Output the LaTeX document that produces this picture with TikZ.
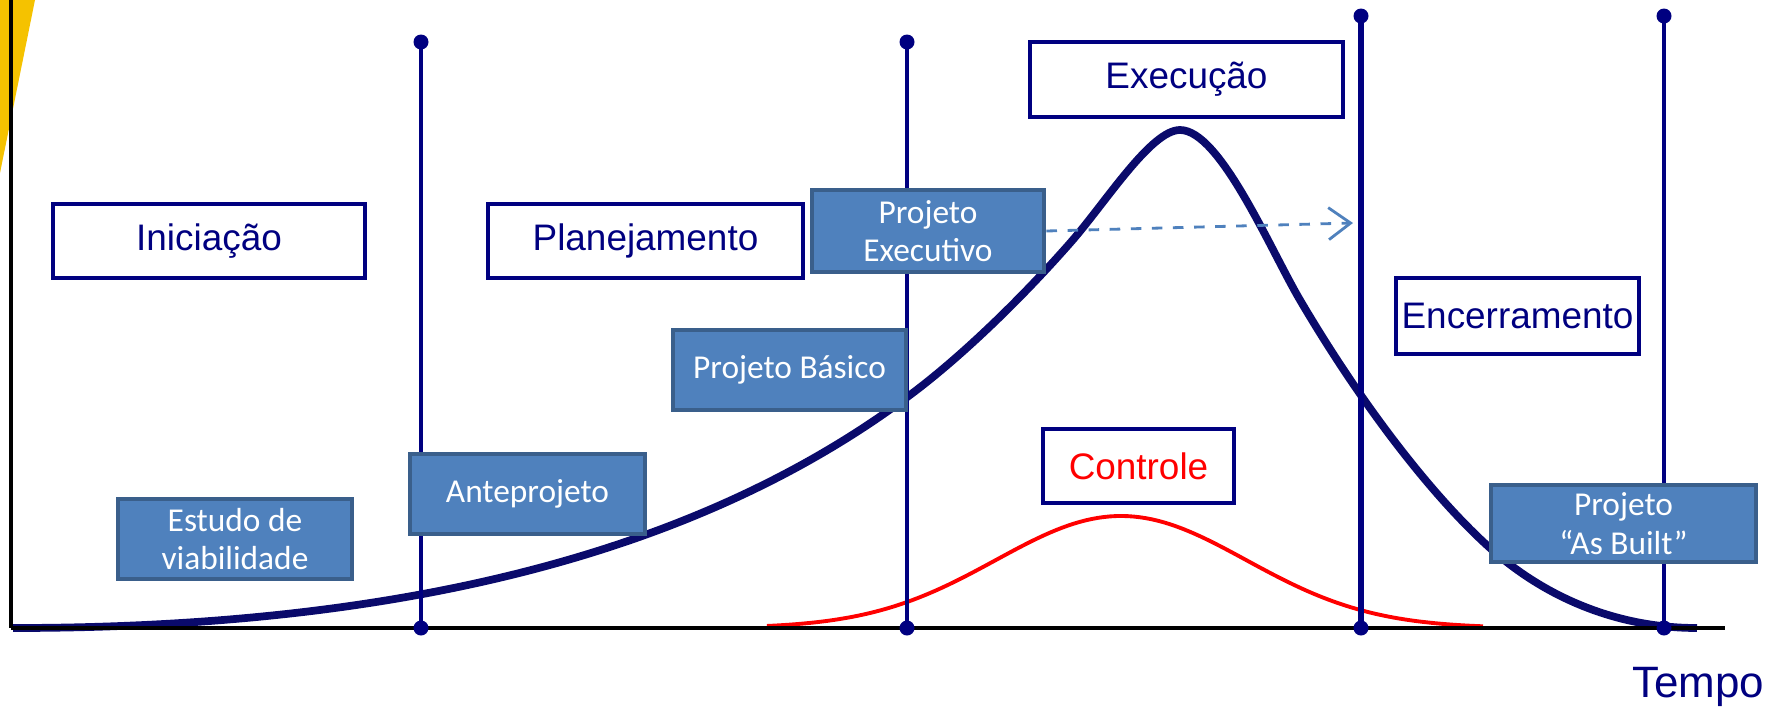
\documentclass[tikz,border=0pt]{standalone}
\usepackage{fontspec}
\setmainfont{Liberation Sans}
\newfontfamily\calibri{Carlito}
\usepackage{xcolor}
\definecolor{marinho}{HTML}{000080}
\definecolor{curvanavy}{HTML}{0A0A6B}
\definecolor{projblue}{HTML}{4F81BD}
\definecolor{projedge}{HTML}{3A5F8B}
\definecolor{slideyellow}{HTML}{F5C200}
\usetikzlibrary{arrows.meta}
\tikzset{
  fase/.style  ={rectangle, draw=marinho, line width=1.1pt, fill=white, text=marinho,
                 inner sep=0pt, align=center, font=\fontsize{10.5}{12.5}\selectfont},
  proj/.style  ={rectangle, draw=projedge, line width=1.4pt, fill=projblue, text=white,
                 inner sep=0pt, align=center, font=\calibri\fontsize{9.5}{11}\selectfont},
  marco/.style ={draw=marinho, line width=0.9pt},
  ponto/.style ={circle, fill=marinho, inner sep=0pt, minimum size=1.5mm},
  eixo/.style  ={draw=black, line width=1.2pt},
  curva/.style ={draw=curvanavy, line width=2.2pt},
  ctrl/.style  ={draw=red, line width=1.1pt},
  seta/.style  ={-{Straight Barb[length=2.2mm, width=3.2mm]}, draw=projblue, dashed,
                 line width=0.8pt},
}

\begin{document}
\begin{tikzpicture}
  \useasboundingbox (-0.11,-0.84) rectangle (17.63,6.28);
  % faixa amarela do slide
  \fill[slideyellow] (-0.11,6.28) -- (0.24,6.28) -- (-0.11,4.55) -- cycle;

  % curvas
  \draw[curva] (0.02,0) .. controls (3.52,0) and (6.69,0.605) .. (8.99,2.33)
    .. controls (9.5,2.71) and (10.1,3.29) .. (10.6,3.86)
    .. controls (10.95,4.26) and (11.4,4.98) .. (11.69,4.98)
    .. controls (12.09,4.98) and (12.59,3.79) .. (12.89,3.28)
    .. controls (13.49,2.26) and (14.19,1.34) .. (14.79,0.80)
    .. controls (15.29,0.35) and (16.0,0) .. (16.86,0);
  \draw[ctrl] plot[domain=7.56:14.72, samples=120] (\x,{1.12*exp(-((\x-11.1)/1.77)^2)});

  % marcos
  \node[ponto] (m1t) at (4.10,5.86) {};
  \node[ponto] (m2t) at (8.96,5.86) {};
  \node[ponto] (m3t) at (13.50,6.12) {};
  \node[ponto] (m4t) at (16.53,6.12) {};
  \draw[marco] (m1t.center) -- (4.10,0) coordinate (m1b);
  \draw[marco] (m2t.center) -- (8.96,0) coordinate (m2b);
  \draw[marco, line width=1.6pt] (m3t.center) -- (13.50,0) coordinate (m3b);
  \draw[marco, line width=1.1pt] (m4t.center) -- (16.53,0) coordinate (m4b);

  % eixos
  \coordinate (ytop) at (0,6.28);
  \coordinate (orig) at (0,0);
  \coordinate (xend) at (17.14,0);
  \draw[eixo, line width=1.4pt] (ytop) -- (orig);
  \draw[eixo] (orig) -- (xend);
  \node[ponto] at (m1b) {};
  \node[ponto] at (m2b) {};
  \node[ponto] at (m3b) {};
  \node[ponto] at (m4b) {};

  % fases
  \node[fase, minimum width=31.3mm, minimum height=7.5mm] (exec) at (11.755,5.485) {Execução};
  \node[fase, minimum width=31.2mm, minimum height=7.4mm] (inic) at (1.98,3.87) {Iniciação};
  \node[fase, minimum width=31.5mm, minimum height=7.4mm] (plan) at (6.345,3.87) {Planejamento};
  \node[fase, minimum width=24.3mm, minimum height=7.6mm] (ence) at (15.065,3.12) {Encerramento};
  \node[fase, minimum width=19.1mm, minimum height=7.4mm, text=red] (cont) at (11.275,1.62) {Controle};

  % projetos
  \node[proj, minimum width=23.2mm, minimum height=8.2mm] (pexe) at (9.17,3.97) {Projeto\\Executivo};
  \node[proj, minimum width=23.3mm, minimum height=8.0mm] (pbas) at (7.785,2.58) {Projeto Básico};
  \node[proj, minimum width=23.5mm, minimum height=8.0mm] (ante) at (5.165,1.34) {Anteprojeto};
  \node[proj, minimum width=23.4mm, minimum height=8.0mm] (estu) at (2.24,0.89) {Estudo de\\viabilidade};
  \node[proj, minimum width=26.5mm, minimum height=7.7mm] (asbu) at (16.125,1.045) {Projeto\\“As Built”};

  \coordinate (setafim) at (13.42,4.05);
  \draw[seta] (pexe.east) -- (setafim);

  \node[anchor=east, text=marinho, font=\fontsize{12.5}{14}\selectfont, inner sep=0pt] (tempo) at (17.54,-0.59) {Tempo};
\end{tikzpicture}
\end{document}
